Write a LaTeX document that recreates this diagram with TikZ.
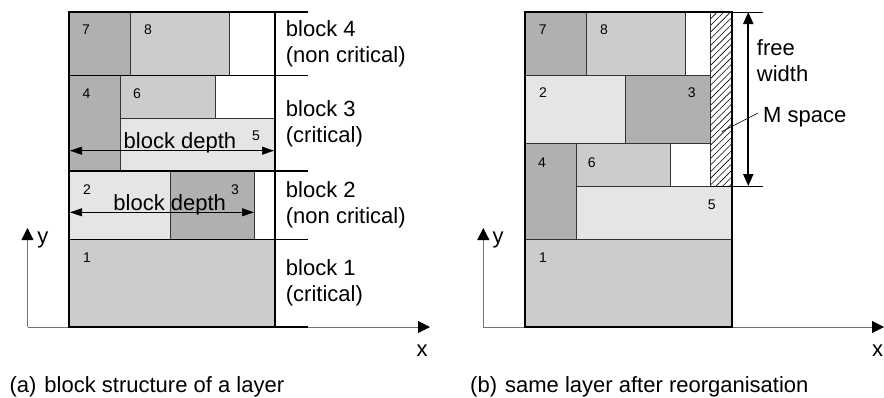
\documentclass[tikz,border=0pt]{standalone}
\usepackage{fontspec}
\setmainfont{Liberation Sans}
\usetikzlibrary{arrows.meta,patterns.meta}
\definecolor{boxdark}{gray}{0.69}
\definecolor{boxmid}{gray}{0.8}
\definecolor{boxlight}{gray}{0.9}
\begin{document}
\begin{tikzpicture}[x=1pt,y=-1pt,
    box/.style={draw=black!80,line width=0.7pt},
    frame/.style={draw=black,line width=2pt},
    num/.style={font=\fontsize{14}{16}\selectfont,inner sep=0pt},
    lbl/.style={font=\fontsize{22}{26}\selectfont,align=left,inner sep=0pt},
    axis/.style={draw=black!55,line width=0.8pt,-{Triangle[length=12pt,width=12pt,color=black]}},
    depth/.style={line width=0.6pt,{Triangle[length=12pt,width=8pt]}-{Triangle[length=12pt,width=8pt]}},
    freew/.style={line width=2pt,{Triangle[length=12pt,width=10pt]}-{Triangle[length=12pt,width=10pt]}}]
    \useasboundingbox (0,0) rectangle (884,397);
    % (a) block structure
    \coordinate (oa) at (27.5,327);
    \coordinate (ya) at (27.5,228);
    \coordinate (xa) at (430,327);
    \draw[axis] (oa) -- (ya);
    \draw[axis] (oa) -- (xa);
    \node[lbl,anchor=base] (ylbla) at (43,243) {y};
    \node[lbl,anchor=base] (xlbla) at (422,356) {x};
    \draw[box,fill=boxdark] (69,12) rectangle (130.5,75);
    \draw[box,fill=boxmid] (130.5,12) rectangle (229,75);
    \draw[box,fill=boxdark] (69,75) rectangle (120.5,171);
    \draw[box,fill=boxmid] (120.5,75) rectangle (215.5,118.5);
    \draw[box,fill=boxlight] (120.5,118.5) rectangle (275,171);
    \draw[box,fill=boxlight] (69,171) rectangle (170,239);
    \draw[box,fill=boxdark] (170,171) rectangle (254.5,239);
    \draw[box,fill=boxmid] (69,239) rectangle (275,327);
    \draw[line width=0.8pt] (69,75) -- (308,75) (69,239) -- (308,239);
    \draw[line width=2pt] (69,12) -- (308,12) (69,171) -- (308,171) (69,327) -- (308,327);
    \draw[frame] (69,12) rectangle (275,327);
    \node[num] (a7) at (86,30) {7};
    \node[num] (a8) at (148,30) {8};
    \node[num] (a4) at (86.5,94) {4};
    \node[num] (a6) at (137,94) {6};
    \node[num] (a5) at (256,136) {5};
    \node[num] (a2) at (87,190) {2};
    \node[num] (a3) at (235,190) {3};
    \node[num] (a1) at (87,258) {1};
    \coordinate (d3l) at (70,150.7);
    \coordinate (d3r) at (274,150.7);
    \coordinate (d2l) at (70,212.3);
    \coordinate (d2r) at (254,212.3);
    \draw[depth] (d3l) -- (d3r);
    \draw[depth] (d2l) -- (d2r);
    \node[lbl,anchor=base] (dep3) at (180,148.3) {block depth};
    \node[lbl,anchor=base] (dep2) at (169.7,210) {block depth};
    \node[lbl,anchor=west] (blk4) at (285.7,44.2) {block 4\\(non critical)};
    \node[lbl,anchor=west] (blk3) at (285.7,123.5) {block 3\\(critical)};
    \node[lbl,anchor=west] (blk2) at (285.7,205) {block 2\\(non critical)};
    \node[lbl,anchor=west] (blk1) at (285.7,283) {block 1\\(critical)};
    \node[lbl,anchor=base west] (capa) at (9.3,392) {(a)\hspace{2pt} block structure of a layer};
    % (b) after reorganisation
    \coordinate (ob) at (483.3,327);
    \coordinate (yb) at (483.3,228);
    \coordinate (xb) at (884,327);
    \draw[axis] (ob) -- (yb);
    \draw[axis] (ob) -- (xb);
    \node[lbl,anchor=base] (ylblb) at (498,243) {y};
    \node[lbl,anchor=base] (xlblb) at (877.5,356) {x};
    \draw[box,fill=boxdark] (525,12) rectangle (586.5,75);
    \draw[box,fill=boxmid] (586.5,12) rectangle (685,75);
    \draw[box,fill=boxlight] (525,75) rectangle (625.5,143.3);
    \draw[box,fill=boxdark] (625.5,75) rectangle (710,143.3);
    \draw[box,fill=boxdark] (525,143.3) rectangle (576,239);
    \draw[box,fill=boxmid] (576,143.3) rectangle (670.7,186);
    \draw[box,fill=boxlight] (576,186) rectangle (731.5,239);
    \draw[box,fill=boxmid] (525,239) rectangle (731.5,327);
    \draw[box,pattern={Lines[angle=45,distance=4.7pt,line width=0.6pt]}] (710,12) rectangle (731.5,186);
    \draw[line width=1pt] (731.5,12) -- (763,12) (710,186) -- (763,186);
    \draw[frame] (525,12) rectangle (731.5,327);
    \node[num] (b7) at (542.7,30) {7};
    \node[num] (b8) at (604,30) {8};
    \node[num] (b2) at (543,93) {2};
    \node[num] (b3) at (691.7,93) {3};
    \node[num] (b4) at (542,163) {4};
    \node[num] (b6) at (591.7,163) {6};
    \node[num] (b5) at (711.7,205) {5};
    \node[num] (b1) at (543,258) {1};
    \coordinate (fwt) at (748.3,12);
    \coordinate (fwb) at (748.3,186);
    \draw[freew] (fwt) -- (fwb);
    \node[lbl,anchor=west] (free) at (756.7,60.5) {free\\width};
    \node[lbl,anchor=west] (mspace) at (763,117) {M space};
    \coordinate (mpt) at (721.7,131.7);
    \draw[line width=0.6pt] (mspace.west) ++(-5,-4) -- (mpt);
    \node[lbl,anchor=base west] (capb) at (470,392) {(b)\hspace{2pt} same layer after reorganisation};
\end{tikzpicture}
\end{document}
